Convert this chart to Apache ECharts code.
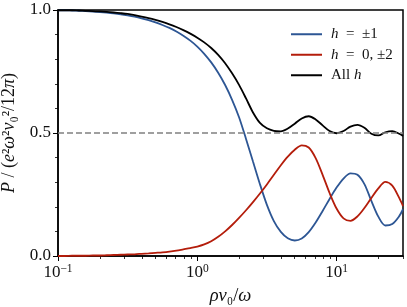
<!DOCTYPE html>
<html><head><meta charset="utf-8">
<script src="https://cdn.jsdelivr.net/npm/echarts@6/dist/echarts.min.js"></script>
<style>html,body{margin:0;padding:0;background:#fff}#c{width:407px;height:307px}</style>
</head><body><div id="c"></div>
<script>
const xs = [0.1,0.112,0.126,0.141,0.158,0.178,0.2,0.224,0.251,0.282,0.316,0.355,0.398,0.447,0.501,0.562,0.631,0.708,0.794,0.891,
  1,1.122,1.259,1.413,1.585,1.778,1.995,2.239,2.512,2.818,3.162,3.548,3.981,4.467,5.012,5.623,6.31,7.079,7.943,8.913,
  10,11.22,12.59,14.13,15.85,17.78,19.95,22.39,25.12,28.18,30];
const blueVals = [0.999,0.999,0.998,0.997,0.9955,0.9937,0.9916,0.9891,0.986,0.9823,0.9779,0.9726,0.9662,0.9586,0.9494,0.9390,0.9272,0.9128,0.8956,0.8754,
  0.8514,0.822,0.787,0.745,0.695,0.635,0.564,0.476,0.384,0.292,0.208,0.142,0.098,0.072,0.063,0.071,0.097,0.136,0.183,0.232,
  0.278,0.315,0.336,0.330,0.292,0.224,0.160,0.124,0.130,0.162,0.190];
const redVals = [0.000,0.000,0.001,0.001,0.001,0.002,0.002,0.003,0.004,0.005,0.006,0.007,0.009,0.011,0.013,0.015,0.018,0.022,0.027,0.032,
  0.038,0.047,0.060,0.078,0.100,0.126,0.155,0.186,0.219,0.254,0.291,0.330,0.369,0.404,0.432,0.450,0.441,0.398,0.330,0.256,
  0.193,0.153,0.143,0.161,0.195,0.236,0.275,0.301,0.286,0.236,0.203];
const allVals = [0.999,0.999,0.999,0.998,0.9968,0.9957,0.9940,0.9921,0.9898,0.9871,0.9839,0.9790,0.9734,0.9670,0.9597,0.9514,0.9419,0.9309,0.9183,0.9040,
  0.8876,0.8685,0.8455,0.8175,0.7835,0.7425,0.6955,0.6405,0.5835,0.541,0.519,0.509,0.507,0.518,0.538,0.559,0.568,0.555,0.531,0.508,
  0.499,0.508,0.526,0.533,0.521,0.497,0.490,0.503,0.508,0.497,0.488];
const xMajor = [0.1,1,10];
const xMinor = [0.2,0.3,0.4,0.5,0.6,0.7,0.8,0.9,2,3,4,5,6,7,8,9,20,30];
const xTickText = {0.1:'10{s|−1}',1:'10{s|0}',10:'10{s|1}'};
const legendNames = ['h1','h02','all'];
const legendText = ['{i|h}\u2002=\u2002±1','{i|h}\u2002=\u20020, ±2','All {i|h}'];
const refLine = 0.5;

const FONT = 'Liberation Serif';
const TXT = '#111';
const chart = echarts.init(document.getElementById('c'), null, {renderer:'canvas'});
const mk = arr => xs.map((x,i)=>[x,arr[i]]);
const lineSeries = (name, arr, color) => ({
  name, type:'line', data: mk(arr), symbol:'none', showSymbol:false, smooth:0.3,
  lineStyle:{color, width:1.8}, itemStyle:{color}, z:3, animation:false
});
chart.setOption({
  animation:false,
  grid:{left:58,right:4,top:10,bottom:51,show:true,borderColor:'#000',borderWidth:1.5,backgroundColor:'transparent',
    containLabel:false,outerBoundsMode:'none'},
  legend:{
    orient:'vertical', left:286, top:21, itemWidth:31, itemHeight:2, itemGap:4, icon:'rect',
    textStyle:{fontFamily:FONT,fontSize:15,color:TXT,padding:[0,0,0,4],lineHeight:16.5,
      rich:{i:{fontFamily:FONT,fontStyle:'italic',fontSize:15,color:TXT,lineHeight:16.5}}},
    formatter: n => legendText[legendNames.indexOf(n)],
    data:legendNames
  },
  xAxis:[{
    type:'log', logBase:10, min:0.1, max:30,
    name:'{i|ρv}₀/{i|ω}', nameLocation:'middle', nameGap:31,
    nameTextStyle:{fontFamily:FONT,fontSize:18.5,color:TXT,
      rich:{i:{fontFamily:FONT,fontStyle:'italic',fontSize:18.5,color:TXT}}},
    axisLine:{lineStyle:{color:'#000',width:1.5}},
    axisTick:{show:true,customValues:xMajor,length:5,lineStyle:{color:'#000',width:1}},
    axisLabel:{customValues:xMajor,margin:7,fontFamily:FONT,fontSize:17,color:TXT,
      formatter:v=>xTickText[v] || '',
      rich:{s:{fontFamily:FONT,fontSize:11.5,verticalAlign:'top',padding:[0,0,8,0],color:TXT}}},
    splitLine:{show:false}, minorTick:{show:false}
  },{
    type:'log', logBase:10, min:0.1, max:30, gridIndex:0, position:'bottom',
    axisLine:{show:false},
    axisTick:{show:true,customValues:xMinor,length:3,lineStyle:{color:'#000',width:0.8}},
    axisLabel:{show:false}, splitLine:{show:false}
  }],
  yAxis:{
    type:'value', min:0, max:1, interval:0.5,
    name:'{i|P} / ({i|e}²{i|ω}²{i|v}₀²/12{i|π})', nameLocation:'middle', nameGap:40,
    nameTextStyle:{fontFamily:FONT,fontSize:18,color:TXT,
      rich:{i:{fontFamily:FONT,fontStyle:'italic',fontSize:18,color:TXT}}},
    axisLine:{show:true,lineStyle:{color:'#000',width:1.5}},
    axisTick:{show:true,length:5,lineStyle:{color:'#000',width:1}},
    minorTick:{show:true,splitNumber:5,length:3,lineStyle:{color:'#000',width:0.8}},
    axisLabel:{fontFamily:FONT,fontSize:17,color:TXT,margin:7,formatter:v=>v.toFixed(1)},
    splitLine:{show:false}
  },
  series:[
    Object.assign(lineSeries('h1', blueVals, '#2d5694'),{
      markLine:{silent:true,symbol:'none',label:{show:false},
        lineStyle:{color:'#808080',type:[6,3],width:1.6},data:[{yAxis:refLine}]}}),
    lineSeries('h02', redVals, '#b41d0b'),
    lineSeries('all', allVals, '#000000')
  ]
});
</script></body></html>
